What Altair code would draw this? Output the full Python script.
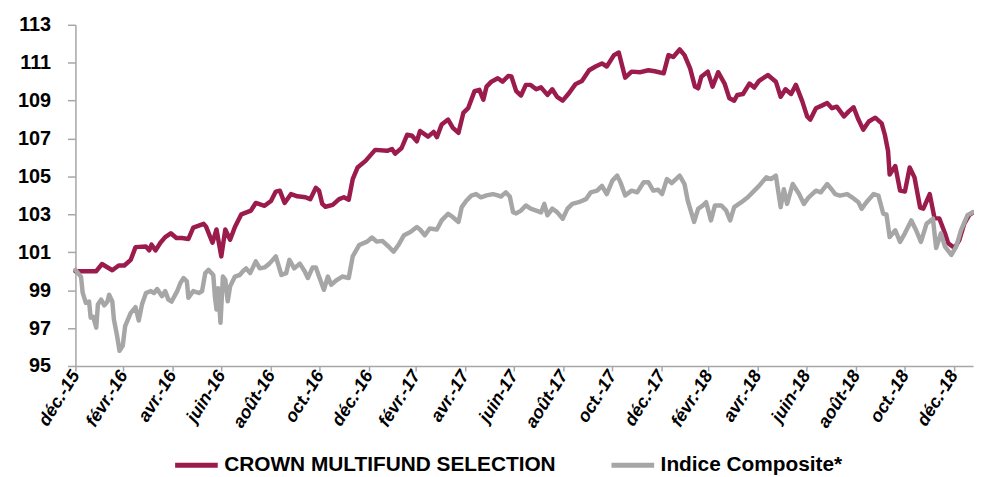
import altair as alt
import pandas as pd

# ---- data (days since 31 Dec 2015, value) ----
series_names = ["CROWN MULTIFUND SELECTION", "Indice Composite*"]
series_colors = ["#9B1B4C", "#A6A6A6"]

crown_days = [0, 26, 33, 46, 54, 61, 69, 75, 88, 92, 95, 100, 106, 112, 119, 126, 133, 141, 147, 160,
              163, 171, 176, 182, 187, 193, 199, 207, 219, 225, 236, 244, 250, 255, 261, 269, 277, 287, 293, 300,
              304, 308, 312, 321, 329, 335, 341, 346, 352, 362, 374, 389, 395, 399, 407, 414, 420, 426, 430, 440,
              447, 451, 457, 465, 471, 478, 484, 490, 498, 504, 509, 513, 519, 527, 533, 540, 544, 550, 556, 562,
              568, 575, 581, 589, 595, 601, 608, 616, 624, 632, 641, 649, 657, 663, 672, 678, 686, 694, 705, 715,
              723, 734, 740, 746, 754, 760, 767, 773, 777, 781, 789, 795, 802, 810, 816, 822, 826, 833, 841, 847,
              853, 864, 874, 880, 886, 893, 899, 907, 913, 917, 924, 932, 938, 944, 950, 959, 965, 971, 977, 983,
              990, 998, 1006, 1010, 1014, 1016, 1023, 1029, 1035, 1041, 1047, 1054, 1058, 1066, 1072, 1078, 1085,
              1089, 1097, 1103, 1109, 1115, 1120]
crown_vals = [100.0, 100.0, 100.38, 100.05, 100.3, 100.3, 100.6, 101.27, 101.3, 101.1, 101.4, 101.1, 101.5,
              101.8, 102.0, 101.75, 101.75, 101.7, 102.3, 102.5,
              102.35, 101.5, 102.2, 100.78, 102.2, 101.66, 102.33, 103.0, 103.2, 103.6, 103.45, 103.7, 104.2,
              104.25, 103.6, 104.07, 103.95, 103.9, 103.8, 104.4,
              104.25, 103.55, 103.4, 103.5, 103.8, 103.9, 103.77, 104.86, 105.47, 105.82, 106.4, 106.35, 106.45,
              106.2, 106.5, 107.2, 107.15, 106.85, 107.4, 107.1,
              107.35, 107.07, 107.74, 108.0, 107.56, 107.3, 108.35, 108.6, 109.5, 109.57, 109.05, 109.74, 110.0,
              110.18, 110.0, 110.3, 110.27, 109.5, 109.27, 109.83,
              109.83, 109.6, 109.7, 109.3, 109.6, 109.2, 109.0, 109.4, 109.87, 110.04, 110.6, 110.8, 110.96,
              110.8, 111.4, 111.54, 110.21, 110.53, 110.5, 110.6,
              110.55, 110.44, 111.4, 111.3, 111.7, 111.4, 110.7, 109.74, 109.65, 110.26, 110.53, 109.74, 110.5,
              109.9, 109.12, 109.0, 109.3, 109.35, 109.9, 109.69,
              110.04, 110.35, 110.0, 109.2, 109.6, 109.35, 109.83, 108.96, 108.17, 108.0, 108.6, 108.75, 108.87,
              108.6, 108.68, 108.17, 108.43, 108.65, 108.0, 107.47,
              107.9, 108.1, 107.8, 107.2, 106.34, 105.1, 105.55, 104.25, 104.2, 105.47, 104.95, 103.35, 103.3,
              104.07, 102.8, 102.78, 102.0,
              101.48, 101.22, 101.65, 102.5, 102.95, 103.1]

indice_days = [0, 7, 9, 13, 17, 19, 22, 26, 28, 32, 36, 40, 42, 46, 48, 52, 55, 59, 62, 65,
               69, 75, 79, 83, 88, 94, 98, 102, 108, 112, 116, 120, 127, 131, 135, 139, 141, 147, 154, 158,
               162, 166, 172, 174, 176, 178, 181, 184, 187, 190, 193, 199, 205, 209, 213, 218, 225, 230, 236, 242,
               250, 257, 263, 267, 273, 280, 286, 290, 296, 300, 304, 310, 315, 319, 325, 333, 341, 346, 354, 364,
               370, 376, 383, 391, 397, 403, 410, 418, 426, 430, 436, 442, 451, 457, 465, 471, 478, 482, 488, 494,
               500, 506, 513, 521, 527, 531, 537, 542, 546, 550, 556, 562, 568, 575, 581, 585, 589, 595, 601, 608,
               614, 620, 628, 637, 643, 651, 657, 663, 670, 676, 680, 686, 694, 701, 709, 715, 721, 727, 732, 738,
               744, 754, 760, 764, 769, 772, 777, 783, 787, 793, 798, 806, 812, 817, 822, 831, 839, 845, 853, 862,
               868, 874, 880, 884, 888, 895, 903, 909, 915, 924, 930, 938, 944, 948, 954, 963, 969, 977, 981, 987,
               996, 1002, 1008, 1012, 1016, 1023, 1029, 1035, 1043, 1049, 1055, 1062, 1070, 1074, 1080, 1085, 1093,
               1099, 1105, 1113, 1120]
indice_vals = [100.07, 99.7, 98.87, 98.33, 98.4, 97.55, 97.6, 97.02, 98.24, 98.5, 98.2, 98.4, 98.76, 98.4,
               97.46, 96.58, 95.8, 96.06, 97.1, 97.4,
               97.8, 98.1, 97.4, 98.24, 98.85, 98.95, 98.85, 99.06, 98.68, 98.95, 98.5, 98.4, 98.95, 99.38,
               99.64, 99.47, 98.6, 98.95, 98.85, 98.95,
               99.9, 100.07, 99.8, 98.68, 97.98, 99.1, 97.28, 99.72, 99.55, 98.41, 99.2, 99.72, 99.8, 100.0,
               100.15, 99.9, 100.52, 100.15, 100.2, 100.4,
               100.78, 99.8, 99.9, 100.6, 100.15, 100.4, 100.0, 99.64, 100.2, 100.2, 99.72, 99.02, 99.72, 99.29,
               99.5, 99.72, 99.64, 100.78, 101.38, 101.56,
               101.78, 101.56, 101.6, 101.29, 101.03, 101.38, 101.9, 102.07, 102.33, 102.2, 101.9, 102.25, 102.2,
               102.68, 103.03, 102.85, 102.6, 103.38, 103.73, 103.99,
               104.07, 103.9, 104.0, 104.07, 104.0, 103.94, 104.16, 103.94, 103.12, 103.05, 103.2, 103.47, 103.3,
               103.2, 103.1, 103.55, 102.95, 103.3, 103.12, 102.77,
               103.3, 103.55, 103.64, 103.8, 104.16, 104.25, 104.5, 104.07, 104.78, 105.04, 104.7, 104.0, 104.25,
               104.16, 104.69, 104.69, 104.25, 104.3, 104.07, 104.86,
               104.65, 105.04, 104.6, 103.73, 103.03, 102.6, 103.29, 103.47, 103.64, 102.68, 103.47, 103.47, 103.2,
               102.68, 103.38, 103.64, 103.9, 104.16, 104.5, 104.95,
               104.86, 105.04, 103.38, 104.33, 103.55, 104.6, 104.07, 103.55, 103.9, 104.25, 104.16, 104.6, 104.3,
               104.07, 103.99, 104.07, 103.9, 103.64, 103.29, 103.64,
               104.07, 103.99, 103.03, 103.0, 101.8, 102.16, 101.55, 102.0, 102.68, 102.16, 101.55, 102.5, 102.77,
               101.22, 102.0, 101.3, 100.86,
               101.3, 102.16, 102.95, 103.12]

start_date = "2015-12-31"
end_date = "2019-01-24"
tick_dates = ["2015-12-31", "2016-02-29", "2016-04-30", "2016-06-30", "2016-08-31", "2016-10-31",
              "2016-12-31", "2017-02-28", "2017-04-30", "2017-06-30", "2017-08-31", "2017-10-31",
              "2017-12-31", "2018-02-28", "2018-04-30", "2018-06-30", "2018-08-31", "2018-10-31",
              "2018-12-31"]
month_labels = ["janv.", "févr.", "mars", "avr.", "mai", "juin", "juil.", "août", "sept.", "oct.", "nov.", "déc."]
y_ticks = [95, 97, 99, 101, 103, 105, 107, 109, 111, 113]

# ---- build table ----
t0 = pd.Timestamp(start_date)
df = pd.concat([
    pd.DataFrame({"date": t0 + pd.to_timedelta(crown_days, unit="D"), "value": crown_vals,
                  "series": series_names[0], "k": 0}),
    pd.DataFrame({"date": t0 + pd.to_timedelta(indice_days, unit="D"), "value": indice_vals,
                  "series": series_names[1], "k": 1}),
], ignore_index=True)


def dt(s):
    p = pd.Timestamp(s)
    return alt.DateTime(year=p.year, month=p.month, date=p.day)


label_expr = ("[" + ",".join("'" + m + "'" for m in month_labels) + "][month(datum.value)]"
              " + '-' + timeFormat(datum.value, '%y')")

FONT = "Liberation Sans"
AXIS_COL = "#A6A6A6"

chart = alt.Chart(df).mark_line(strokeWidth=4.5, strokeJoin="round", strokeCap="round").encode(
    x=alt.X("date:T",
            scale=alt.Scale(domain=[dt(start_date), dt(end_date)], nice=False),
            axis=alt.Axis(values=[dt(d) for d in tick_dates], labelExpr=label_expr, title=None,
                          grid=False, domainColor=AXIS_COL, domainWidth=1.5, tickColor=AXIS_COL,
                          tickWidth=1.5, tickSize=5, labelAngle=-58, labelAlign="right",
                          labelBaseline="middle", labelFont=FONT, labelFontSize=18,
                          labelFontStyle="italic", labelFontWeight="bold", labelColor="#000000",
                          labelPadding=1, labelOverlap=False, labelBound=False, labelFlush=False)),
    y=alt.Y("value:Q",
            scale=alt.Scale(domain=[95, 113], nice=False, zero=False),
            axis=alt.Axis(values=y_ticks, title=None, grid=False, domainColor=AXIS_COL, domainWidth=1.5,
                          tickColor=AXIS_COL, tickWidth=1.5, tickSize=8, labelFont=FONT, labelFontSize=20,
                          labelFontWeight="bold", labelColor="#000000", labelPadding=17,
                          labelOverlap=False, labelBound=False, labelFlush=False)),
    color=alt.Color("series:N",
                    scale=alt.Scale(domain=series_names, range=series_colors),
                    legend=alt.Legend(orient="none", legendX=98, legendY=420, direction="horizontal",
                                      title=None, symbolType="stroke", symbolSize=1849,
                                      symbolStrokeWidth=5, labelFont=FONT, labelFontSize=21,
                                      labelFontWeight="bold", labelColor="#000000", labelLimit=500,
                                      labelOffset=4, columnPadding=45)),
    order=alt.Order("k:Q"),
).properties(
    width=905, height=344,
    autosize=alt.AutoSizeParams(type="none"),
    padding={"left": 68, "top": 15, "right": 1, "bottom": 110},
).configure_view(stroke=None)

chart.save("out.html", embed_options={"renderer": "svg", "actions": False})
